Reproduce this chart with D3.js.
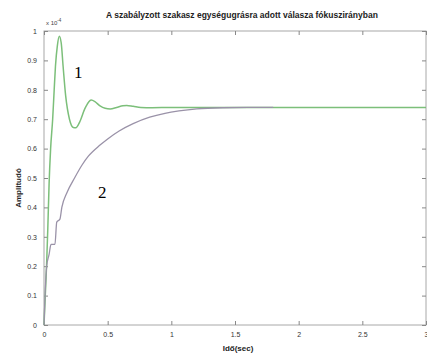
<!DOCTYPE html>
<html>
  <head>
    <meta charset="UTF-8">
    <title>Egységugrásra adott válasz</title>
    <script src="https://cdn.jsdelivr.net/npm/d3@7"></script>
    <style>
      body { margin: 0; background: #fff; }
      text { font-family: Arial, "Liberation Sans", sans-serif; }
    </style>
  </head>
  <body>
    <script>
      // chart data (amplitude in units of 1e-4)
      var curve1T = [0, 0.01, 0.02, 0.03, 0.04, 0.052, 0.068, 0.08, 0.09, 0.105, 0.12, 0.135, 0.15, 0.17, 0.2, 0.23, 0.25, 0.28, 0.32, 0.35, 0.37, 0.4, 0.44, 0.48, 0.52, 0.57, 0.62, 0.65, 0.7, 0.76, 0.85, 1.0, 1.5, 2.0, 2.5, 3.0];
      var curve1V = [0, 0.1, 0.2, 0.33, 0.48, 0.6, 0.7, 0.8, 0.88, 0.95, 0.982, 0.96, 0.88, 0.78, 0.7, 0.672, 0.671, 0.69, 0.735, 0.758, 0.765, 0.76, 0.745, 0.737, 0.735, 0.74, 0.746, 0.747, 0.744, 0.74, 0.739, 0.74, 0.74, 0.74, 0.74, 0.74];
      var curve2T = [0, 0.01, 0.021, 0.04, 0.055, 0.086, 0.1, 0.125, 0.14, 0.18, 0.24, 0.3, 0.35, 0.44, 0.5, 0.59, 0.7, 0.83, 0.95, 1.06, 1.2, 1.4, 1.6, 1.8];
      var curve2V = [0, 0.12, 0.2, 0.24, 0.274, 0.274, 0.35, 0.36, 0.4, 0.45, 0.5, 0.545, 0.575, 0.612, 0.633, 0.66, 0.685, 0.707, 0.72, 0.728, 0.735, 0.739, 0.74, 0.74];
      var xTicks = [0, 0.5, 1, 1.5, 2, 2.5, 3];
      var yTicks = [0, 0.1, 0.2, 0.3, 0.4, 0.5, 0.6, 0.7, 0.8, 0.9, 1];

      // plot box (don't use "top" - it's window.top)
      var boxLeft = 44, boxRight = 426, boxTop = 31, boxBottom = 325;

      var svg = d3.select("body").append("svg")
        .attr("width", 427)
        .attr("height", 354);

      var x = d3.scaleLinear().domain([0, 3]).range([boxLeft, boxRight]);
      var y = d3.scaleLinear().domain([0, 1]).range([boxBottom, boxTop]);

      // axes box
      svg.append("rect")
        .attr("x", boxLeft).attr("y", boxTop)
        .attr("width", boxRight - boxLeft).attr("height", boxBottom - boxTop)
        .attr("fill", "none")
        .attr("stroke", "#a8a8a8")
        .attr("stroke-width", 1);

      // ticks drawn inward, matlab style
      var tickColor = "#888";
      var xb = svg.append("g").attr("transform", "translate(0," + boxBottom + ")")
        .call(d3.axisBottom(x).tickValues(xTicks).tickSize(-4).tickPadding(7)
          .tickFormat(function (d) { return d; }));
      var xt = svg.append("g").attr("transform", "translate(0," + boxTop + ")")
        .call(d3.axisTop(x).tickValues(xTicks).tickSize(-4).tickFormat(""));
      var yl = svg.append("g").attr("transform", "translate(" + boxLeft + ",0)")
        .call(d3.axisLeft(y).tickValues(yTicks).tickSize(-4).tickPadding(7)
          .tickFormat(function (d) { return d; }));
      var yr = svg.append("g").attr("transform", "translate(" + boxRight + ",0)")
        .call(d3.axisRight(y).tickValues(yTicks).tickSize(-4).tickFormat(""));

      [xb, xt, yl, yr].forEach(function (g) {
        g.select(".domain").remove();
        g.selectAll("line").attr("stroke", tickColor);
        g.selectAll("text")
          .attr("fill", "#333")
          .style("font-size", "7px")
          .style("font-family", "Arial, sans-serif");
      });

      // curves
      var line = d3.line()
        .x(function (d) { return x(d[0]); })
        .y(function (d) { return y(d[1]); })
        .curve(d3.curveMonotoneX);

      var data1 = curve1T.map(function (t, i) { return [t, curve1V[i]]; });
      var data2 = curve2T.map(function (t, i) { return [t, curve2V[i]]; });

      svg.append("path")
        .datum(data1)
        .attr("d", line)
        .attr("fill", "none")
        .attr("stroke", "#7cbf7a")
        .attr("stroke-width", 1.5);

      svg.append("path")
        .datum(data2)
        .attr("d", line)
        .attr("fill", "none")
        .attr("stroke", "#9a92a8")
        .attr("stroke-width", 1.3);

      // scale factor label
      var sf = svg.append("text")
        .attr("x", boxLeft + 2).attr("y", boxTop - 6)
        .attr("fill", "#444")
        .style("font-size", "6px");
      sf.append("tspan").text("x 10");
      sf.append("tspan").attr("dy", -3).style("font-size", "4.5px").text("-4");

      // title
      svg.append("text")
        .attr("x", 242).attr("y", 18)
        .attr("text-anchor", "middle")
        .attr("fill", "#222")
        .style("font-size", "8.5px")
        .style("font-weight", "bold")
        .text("A szabályzott szakasz egységugrásra adott válasza fókuszirányban");

      // axis labels
      svg.append("text")
        .attr("x", 238).attr("y", 351)
        .attr("text-anchor", "middle")
        .attr("fill", "#222")
        .style("font-size", "8px")
        .style("font-weight", "bold")
        .text("Idő(sec)");

      svg.append("text")
        .attr("transform", "translate(21,188) rotate(-90)")
        .attr("text-anchor", "middle")
        .attr("fill", "#222")
        .style("font-size", "8px")
        .style("font-weight", "bold")
        .text("Amplitudó");

      // curve numbers
      svg.append("text")
        .attr("x", 74).attr("y", 78)
        .style("font-family", "'Liberation Serif', 'DejaVu Serif', serif")
        .style("font-size", "17px")
        .text("1");

      svg.append("text")
        .attr("x", 98).attr("y", 198)
        .style("font-family", "'Liberation Serif', 'DejaVu Serif', serif")
        .style("font-size", "17px")
        .text("2");
    </script>
  </body>
</html>
